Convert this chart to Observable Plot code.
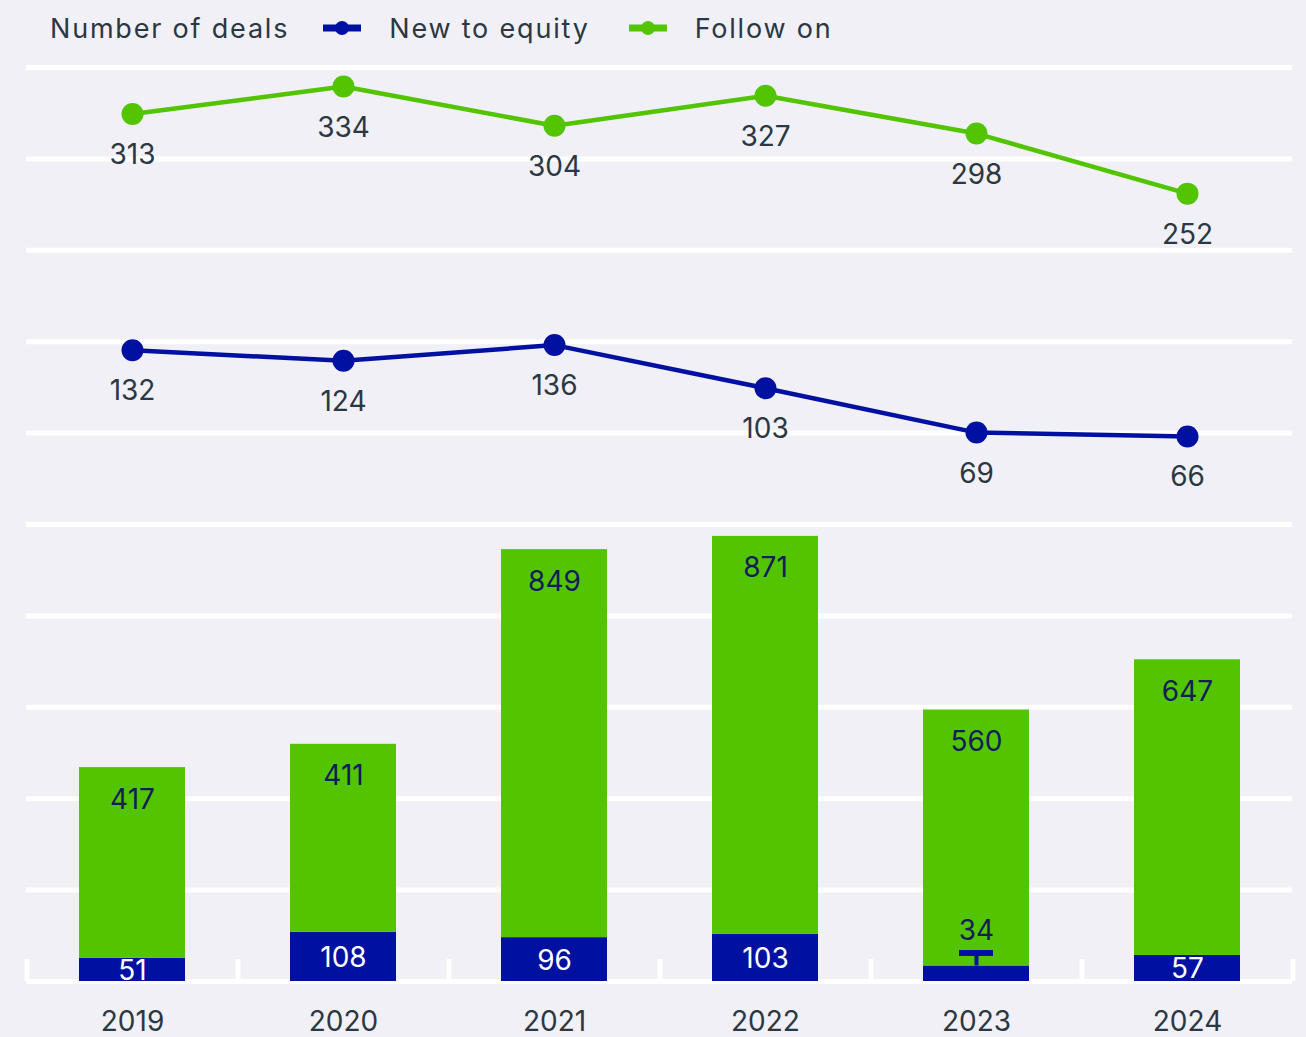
<!DOCTYPE html>
<html>
<head>
<meta charset="utf-8">
<script src="https://cdn.jsdelivr.net/npm/d3@7"></script>
<script src="https://cdn.jsdelivr.net/npm/@observablehq/plot@0.6"></script>
<style>
  html, body { margin: 0; padding: 0; background: #f0f0f6; }
  body { width: 1306px; height: 1037px; overflow: hidden; font-family: Inter, "Noto Sans", sans-serif; }
  #legend { height: 56px; display: flex; align-items: center; padding-left: 50px; color: #2b3742; font-size: 27px; letter-spacing: 1.8px; }
  #legend .sw { display: inline-block; margin-left: 34px; margin-right: 28px; }
  #legend .sw2 { margin-left: 39px; }
</style>
</head>
<body>
<div id="legend"></div>
<div id="chart"></div>
<script>
const years = ["2019", "2020", "2021", "2022", "2023", "2024"];
const newToEquityLine = [132, 124, 136, 103, 69, 66];
const followOnLine = [313, 334, 304, 327, 298, 252];
const newToEquityBars = [51, 108, 96, 103, 34, 57];
const followOnBars = [417, 411, 849, 871, 560, 647];
const seriesNames = ["New to equity", "Follow on"];
const seriesColors = ["#0010a0", "#52c400"];
const gridTicks = d3.range(0, 2001, 200);

const textColor = "#2b3742";
const barTextColor = "#141c5a";

// lines occupy upper half: line value 0..350 shown over bar-scale ~1000..2000
const lineMax = 350, lineBase = 1004, lineSpan = 1000;
const toUpper = v => lineBase + v * lineSpan / lineMax;

const lineData = [];
years.forEach((y, i) => {
  lineData.push({year: y, series: seriesNames[0], value: newToEquityLine[i]});
  lineData.push({year: y, series: seriesNames[1], value: followOnLine[i]});
});
const barData = [];
years.forEach((y, i) => {
  barData.push({year: y, series: seriesNames[0], value: newToEquityBars[i]});
  barData.push({year: y, series: seriesNames[1], value: followOnBars[i]});
});
const barTotals = years.map((y, i) => ({year: y, nte: newToEquityBars[i], fo: followOnBars[i], total: newToEquityBars[i] + followOnBars[i]}));
const smallBars = barTotals.filter(d => d.nte < 40);
const normalBars = barTotals.filter(d => d.nte >= 40);
const mL = 26, mR = 14;
const step = (1306 - mL - mR) / years.length;
const boundaries = years.map((y) => ({year: y, dx: -step / 2})).concat([{year: years[years.length - 1], dx: step / 2}]);

// legend
const legend = document.getElementById("legend");
legend.innerHTML = `<span>Number of deals</span>` +
  seriesNames.map((s, i) => `<svg class="sw ${i ? "sw2" : ""}" width="38" height="16"><line x1="0" x2="38" y1="8" y2="8" stroke="${seriesColors[i]}" stroke-width="7"/><circle cx="19" cy="8" r="7" fill="${seriesColors[i]}"/></svg><span>${s}</span>`).join("");

const color = {domain: seriesNames, range: seriesColors};

const chart = Plot.plot({
  width: 1306,
  height: 981,
  marginLeft: mL,
  marginRight: mR,
  marginTop: 11,
  marginBottom: 56,
  style: {background: "#f0f0f6", fontFamily: "Inter, 'Noto Sans', sans-serif", fontSize: "28px", color: textColor},
  x: {domain: years, paddingInner: 0.5, paddingOuter: 0.25, label: null},
  y: {domain: [0, 2000], axis: null},
  color,
  marks: [
    Plot.ruleY(gridTicks, {stroke: "white", strokeWidth: 5}),
    ...boundaries.map(b => Plot.ruleX([b], {x: "year", dx: b.dx, y1: () => 0, y2: () => 0, insetTop: -22, stroke: "white", strokeWidth: 5})),
    Plot.barY(barData, {x: "year", y: "value", fill: "series", order: seriesNames}),
    Plot.text(normalBars, {x: "year", y: d => d.nte / 2, text: d => String(d.nte), dy: 1, fill: "white", fontSize: 28}),
    Plot.text(barTotals, {x: "year", y: "total", text: d => String(d.fo), dy: 32, fill: barTextColor, fontSize: 28}),
    Plot.text(smallBars, {x: "year", y: "nte", text: d => String(d.nte), dy: -35, fill: barTextColor, fontSize: 28}),
    Plot.tickY(smallBars, {x: "year", y: "nte", dy: -13, insetLeft: 36, insetRight: 36, stroke: seriesColors[0], strokeWidth: 6}),
    Plot.ruleX(smallBars, {x: "year", y1: "nte", y2: "nte", insetTop: -13, stroke: seriesColors[0], strokeWidth: 4}),
    Plot.line(lineData, {x: "year", y: d => toUpper(d.value), z: "series", stroke: "series", strokeWidth: 4.5}),
    Plot.dot(lineData, {x: "year", y: d => toUpper(d.value), fill: "series", r: 11}),
    Plot.text(lineData, {x: "year", y: d => toUpper(d.value), text: d => String(d.value), dy: 41, fill: textColor, fontSize: 28}),
    Plot.axisX({tickSize: 0, tickPadding: 30, fontSize: 28, fill: textColor, label: null})
  ]
});
document.getElementById("chart").appendChild(chart);
</script>
</body>
</html>
